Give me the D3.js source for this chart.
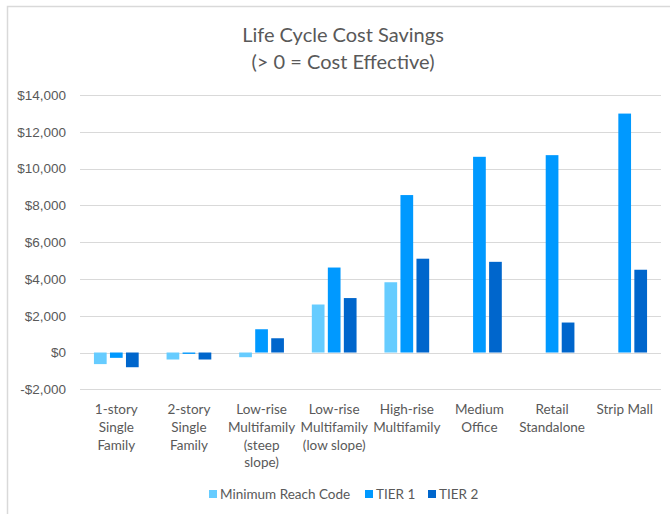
<!DOCTYPE html>
<html>
<head>
<meta charset="utf-8">
<script src="https://cdn.jsdelivr.net/npm/d3@7"></script>
<style>
  html, body { margin: 0; padding: 0; background: #fff; }
  svg { display: block; font-family: Lato, "Open Sans", sans-serif; }
</style>
</head>
<body>
<div id="chart"></div>
<script>
const categories = [
    ["1-story", "Single", "Family"],
    ["2-story", "Single", "Family"],
    ["Low-rise", "Multifamily", "(steep", "slope)"],
    ["Low-rise", "Multifamily", "(low slope)"],
    ["High-rise", "Multifamily"],
    ["Medium", "Office"],
    ["Retail", "Standalone"],
    ["Strip Mall"]
]
const seriesNames = ["Minimum Reach Code", "TIER 1", "TIER 2"]
const minimumReach = [-630, -380, -255, 2610, 3820, null, null, null]
const tier1 = [-290, -75, 1265, 4620, 8560, 10640, 10730, 12990]
const tier2 = [-800, -380, 775, 2960, 5100, 4930, 1630, 4500]
const yTicks = [-2000, 0, 2000, 4000, 6000, 8000, 10000, 12000, 14000]
const titleLines = ["Life Cycle Cost Savings", "(> 0 = Cost Effective)"]

const colors = ["#66ccff", "#0099ff", "#0066cc"]
const textColor = "#595959"
const gridColor = "#d9d9d9"

const dimensions = {width: 670, height: 514, marginLeft: 80, marginRight: 9, marginTop: 95, plotBottom: 389.3}

const createSvg = ({width, height}) => {
    return d3.select("#chart").append("svg")
        .attr("width", width)
        .attr("height", height)
}

const svg = createSvg(dimensions)
const {width, marginLeft, marginRight, marginTop, plotBottom} = dimensions

// chart frame (runs off the right and bottom edge like in the screenshot)
svg.append("rect")
    .attr("x", 7.5)
    .attr("y", 6.5)
    .attr("width", width + 20)
    .attr("height", 600)
    .attr("fill", "none")
    .attr("stroke", gridColor)
    .attr("stroke-width", 1.5)

const x0 = d3.scaleBand()
    .domain(d3.range(categories.length))
    .range([marginLeft, width - marginRight])
    .paddingInner(0.384)
    .paddingOuter(0.192)

const x1 = d3.scaleBand()
    .domain(d3.range(seriesNames.length))
    .range([0, x0.bandwidth()])
    .paddingInner(0.206)

const y = d3.scaleLinear()
    .domain([-2000, 14000])
    .range([plotBottom, marginTop])

// gridlines + y labels
const yAxis = svg.append("g")
    .attr("transform", `translate(${marginLeft},0)`)
    .call(d3.axisLeft(y).tickValues(yTicks).tickSize(-(width - marginRight - marginLeft)).tickPadding(14)
        .tickFormat(d => (d < 0 ? "-$" : "$") + d3.format(",")(Math.abs(d))))
yAxis.select(".domain").remove()
yAxis.selectAll(".tick line").attr("stroke", gridColor).attr("shape-rendering", "crispEdges")
yAxis.selectAll(".tick text")
    .attr("fill", textColor)
    .style("font-size", "13.5px")

// bars
const seriesValues = [minimumReach, tier1, tier2]
const barData = categories.flatMap((c, i) => seriesValues.map((values, s) => ({i, s, value: values[i]})))
    .filter(d => d.value != null)

svg.append("g")
    .selectAll("rect")
    .data(barData)
    .join("rect")
    .attr("x", d => x0(d.i) + x1(d.s))
    .attr("width", x1.bandwidth())
    .attr("y", d => y(Math.max(0, d.value)))
    .attr("height", d => Math.abs(y(d.value) - y(0)))
    .attr("fill", d => colors[d.s])

// category labels, several lines each
const labels = svg.append("g")
    .selectAll("text")
    .data(categories)
    .join("text")
    .attr("x", (d, i) => x0(i) + x0.bandwidth() / 2)
    .attr("y", 414)
    .attr("text-anchor", "middle")
    .attr("fill", textColor)
    .style("font-size", "13.5px")
labels.selectAll("tspan")
    .data(d => d)
    .join("tspan")
    .attr("x", function () { return this.parentNode.getAttribute("x") })
    .attr("dy", (d, j) => j === 0 ? 0 : 17.8)
    .text(d => d)

// title
svg.append("g")
    .selectAll("text")
    .data(titleLines)
    .join("text")
    .attr("x", 343)
    .attr("y", (d, i) => 42 + i * 27)
    .attr("text-anchor", "middle")
    .attr("fill", textColor)
    .style("font-size", "20px")
    .text(d => d)

// legend
const legendX = [209, 365, 428]
const legend = svg.append("g")
    .selectAll("g")
    .data(seriesNames)
    .join("g")
    .attr("transform", (d, i) => `translate(${legendX[i]},494)`)
legend.append("rect")
    .attr("x", 0)
    .attr("y", -4)
    .attr("width", 8)
    .attr("height", 8)
    .attr("fill", (d, i) => colors[i])
legend.append("text")
    .attr("x", 11)
    .attr("y", 5)
    .attr("fill", textColor)
    .style("font-size", "13.5px")
    .text(d => d)
</script>
</body>
</html>
